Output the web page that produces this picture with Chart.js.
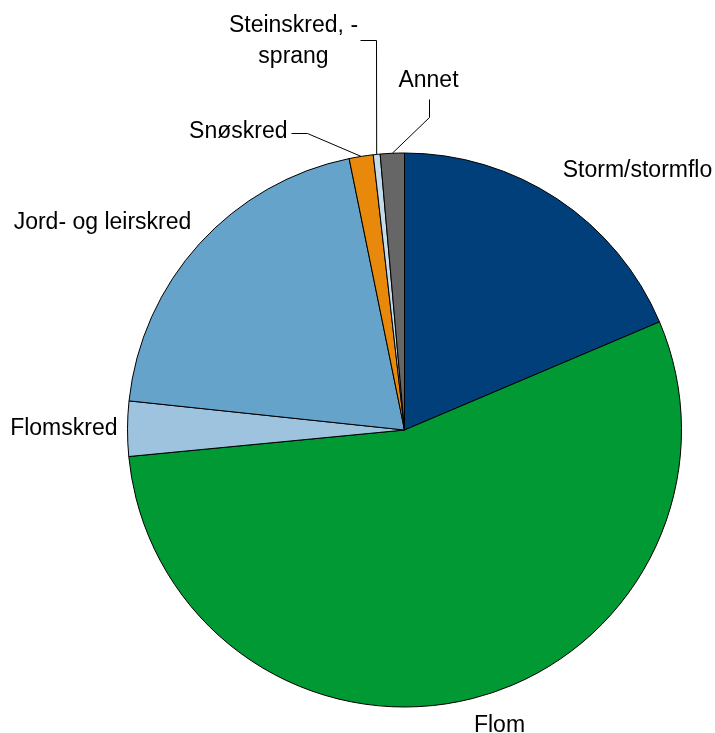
<!DOCTYPE html>
<html>
<head>
<meta charset="utf-8">
<script src="https://cdn.jsdelivr.net/npm/chart.js@4/dist/chart.umd.min.js"></script>
<style>
    html, body { margin: 0; padding: 0; background: #ffffff; }
    #wrap { width: 715px; height: 733px; }
</style>
</head>
<body>
<div id="wrap"><canvas id="pieChart" width="715" height="733"></canvas></div>
<script>
const categories = ["Storm/stormflo", "Flom", "Flomskred", "Jord- og leirskred", "Snøskred", "Steinskred, -sprang", "Annet"];
const displayLabels = [["Storm/stormflo"], ["Flom"], ["Flomskred"], ["Jord- og leirskred"], ["Snøskred"], ["Steinskred, -", "sprang"], ["Annet"]];
const shares = [18.6, 54.8, 3.2, 20.1, 1.4, 0.4, 1.4];
const sliceColors = ["#003f7a", "#009933", "#9dc3df", "#66a3cb", "#e8890c", "#c4dbe9", "#666666"];

// label placement relative to pie centre; leader points end at the slice's mid edge
const labelLayout = [
    { dx: 233, dy: -253, align: "center" },
    { dx: 95, dy: 302, align: "center" },
    { dx: -287, dy: 5, align: "right" },
    { dx: -302, dy: -201, align: "center" },
    { dx: -117, dy: -292, align: "right", leader: [[-114, -297], [-98, -297]] },
    { dx: -111, dy: -398, align: "center", leader: [[-45, -390], [-29, -390]] },
    { dx: 24, dy: -343, align: "center", leader: [[24, -331], [24, -313]] }
];

const pieLabels = {
    id: "pieLabels",
    afterDraw(chart) {
        const ctx = chart.ctx;
        const arcs = chart.getDatasetMeta(0).data;
        ctx.save();
        ctx.font = "23px 'Liberation Sans', Arial, sans-serif";
        ctx.fillStyle = "#000000";
        ctx.textBaseline = "alphabetic";
        arcs.forEach((arc, i) => {
            const spec = labelLayout[i];
            const cx = arc.x, cy = arc.y;
            if (spec.leader) {
                const mid = (arc.startAngle + arc.endAngle) / 2;
                const ex = cx + Math.cos(mid) * arc.outerRadius;
                const ey = cy + Math.sin(mid) * arc.outerRadius;
                ctx.beginPath();
                ctx.strokeStyle = "#000000";
                ctx.lineWidth = 1;
                spec.leader.forEach((p, k) => {
                    const px = Math.round(cx + p[0]) + 0.5;
                    const py = Math.round(cy + p[1]) + 0.5;
                    if (k === 0) ctx.moveTo(px, py); else ctx.lineTo(px, py);
                });
                ctx.lineTo(ex, ey);
                ctx.stroke();
            }
            ctx.textAlign = spec.align;
            displayLabels[i].forEach((line, k) => {
                ctx.fillText(line, cx + spec.dx, cy + spec.dy + k * 31);
            });
        });
        ctx.restore();
    }
};

new Chart(document.getElementById("pieChart"), {
    type: "pie",
    data: {
        labels: categories,
        datasets: [{
            data: shares,
            backgroundColor: sliceColors,
            borderColor: "#000000",
            borderWidth: 1
        }]
    },
    options: {
        responsive: false,
        animation: false,
        layout: { padding: { left: 127, right: 33, top: 152, bottom: 25 } },
        plugins: {
            legend: { display: false },
            tooltip: { enabled: false }
        }
    },
    plugins: [pieLabels]
});
</script>
</body>
</html>
